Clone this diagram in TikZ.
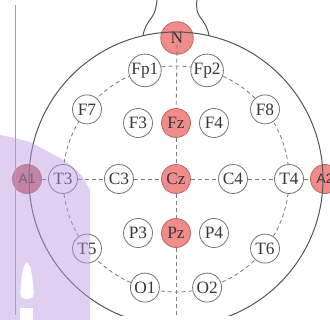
\documentclass[tikz,border=0pt]{standalone}
\usepackage{fontspec}
\setmainfont{Liberation Serif}
\newfontfamily\asans{Liberation Sans}
\definecolor{ered}{RGB}{240,140,138}
\definecolor{eredb}{RGB}{185,105,105}
\definecolor{egray}{RGB}{120,120,120}
\definecolor{etext}{RGB}{55,55,55}
\definecolor{dgray}{RGB}{125,125,125}
\definecolor{hgray}{RGB}{85,85,85}
\definecolor{wmark}{RGB}{185,150,225}
\begin{document}
\begin{tikzpicture}[x=0.6pt,y=-0.6pt,
  elec/.style={circle, draw=egray, fill=white, line width=0.5pt, minimum size=17.4pt,
    inner sep=0.4pt, text=etext, font=\fontsize{10.4}{12}\selectfont},
  refel/.style={elec, fill=ered, draw=eredb},
  earel/.style={refel, font=\asans\fontsize{8.2}{10}\selectfont},
  dline/.style={draw=dgray, dash pattern=on 2.4pt off 1.8pt, line width=0.5pt},
  headline/.style={draw=hgray, line width=0.6pt},
  edgeline/.style={draw=gray!75, line width=0.5pt}]
\useasboundingbox (0,0) rectangle (330,320);
\begin{scope}
\clip (0,0) rectangle (330,316);
% dashed ring of electrodes
\draw[dline] (176,179) circle[radius=113];
\coordinate (bot) at (176,316);
% electrodes
\node[refel, minimum size=19.5pt] (N) at (177,38) {N};
\node[elec] (Fp1) at (144.9,70.4) {Fp1};
\node[elec] (Fp2) at (207.1,70.4) {Fp2};
\node[elec] (F7) at (87,109.4) {F7};
\node[elec] (F8) at (265,109.4) {F8};
\node[elec] (F3) at (138,123) {F3};
\node[refel] (Fz) at (176,123) {Fz};
\node[elec] (F4) at (214,123) {F4};
\node[earel, fill=ered!85!black] (A1) at (27,179) {A1};
\node[elec] (T3) at (63,179) {T3};
\node[elec] (C3) at (119,179) {C3};
\node[refel] (Cz) at (176,179) {Cz};
\node[elec] (C4) at (233,179) {C4};
\node[elec] (T4) at (289,179) {T4};
\node[earel] (A2) at (325,179) {A2};
\node[elec] (P3) at (138,233) {P3};
\node[refel] (Pz) at (176,233) {Pz};
\node[elec] (P4) at (214,233) {P4};
\node[elec] (T5) at (87,248.6) {T5};
\node[elec] (T6) at (265,248.6) {T6};
\node[elec] (O1) at (144.9,287.6) {O1};
\node[elec] (O2) at (207.1,287.6) {O2};
% connectors
\draw[dline] ([yshift=-4pt]N.center) -- (Fz);
\draw[dline] (Fz) -- (Cz);
\draw[dline] (Cz) -- (Pz);
\draw[dline] (Pz) -- (bot);
\draw[dline] (A1) -- (T3);
\draw[dline] (T3) -- (C3);
\draw[dline] (C3) -- (Cz);
\draw[dline] (Cz) -- (C4);
\draw[dline] (C4) -- (T4);
\draw[dline] (T4) -- (A2);
% head outline and nose
\draw[headline] (176,179) circle[radius=147];
\draw[headline] (143,36) .. controls (144,28) and (148,22) .. (152,17)
  .. controls (155,13) and (156,8) .. (157,0);
\draw[headline] (209,36) .. controls (208,28) and (204,22) .. (200,17)
  .. controls (197,13) and (196,8) .. (197,0);
\end{scope}
% page edge line
\draw[edgeline] (15,5) -- (15,315);
% watermark fragment
\fill[wmark, fill opacity=0.45] (0,135) -- (15,138) -- (30,142) -- (45,150) -- (60,158)
  -- (72,166) -- (82,176) -- (90,190) -- (90,320) -- (0,320) -- cycle;
\fill[white, rounded corners=3pt] (24,263) -- (30,263) -- (33,282) -- (34,299) -- (20,299) -- (21,282) -- cycle;
\fill[white] (20,308) rectangle (33,320);
\end{tikzpicture}
\end{document}
